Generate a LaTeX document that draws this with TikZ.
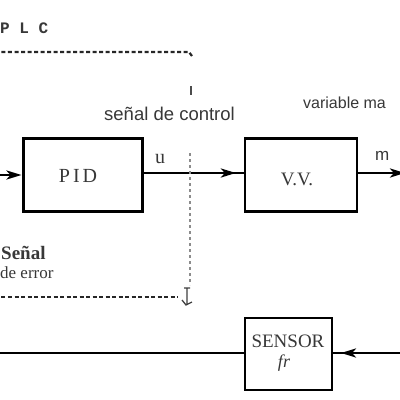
\documentclass[tikz,border=0pt]{standalone}
\usepackage{fontspec}
\setmainfont{Liberation Serif}
\newfontfamily\arialf{Liberation Sans}
\newfontfamily\courf{Liberation Mono}
\usetikzlibrary{arrows.meta,calc}
\begin{document}
\begin{tikzpicture}[x=1pt,y=-1pt,
  blk/.style={draw=black,inner sep=0pt,text=black!75},
  mainline/.style={line width=2.6pt,black},
  tip/.style={-{Stealth[length=15pt,width=9pt,inset=4pt]}},
  dashedline/.style={line width=2.2pt,black!85,dash pattern=on 4pt off 2.5pt},
  dottedline/.style={line width=1.3pt,black!45,dash pattern=on 3pt off 3pt},
  lbl/.style={inner sep=0pt,text=black!78}]
\useasboundingbox (0,0) rectangle (400,400);
\clip (0,0) rectangle (400,400);
\fill[white] (0,0) rectangle (400,400);

% blocks
\node[blk,line width=3pt,minimum width=119pt,minimum height=73pt] (pid) at (82.5,175) {};
\node[lbl,font=\fontsize{20}{20}\selectfont] (pidt) at (78,176) {P\hspace{3pt}I\hspace{3pt}D};
\node[blk,line width=2.2pt,minimum width=112pt,minimum height=73pt] (vv) at (301,175) {};
\node[lbl,font=\fontsize{19}{19}\selectfont] (vvt) at (297,179) {V.V.};
\node[blk,line width=2pt,minimum width=87pt,minimum height=72pt] (sensor) at (288.5,354) {};
\node[lbl,anchor=base,font=\fontsize{19}{19}\selectfont] (sent) at (288,347) {SENSOR};
\node[lbl,anchor=base,font=\fontsize{18}{18}\selectfont\itshape] (frt) at (284,367) {fr};

% coordinates for free ends
\coordinate (inL) at (-5,175);
\coordinate (outR) at (405,173);
\coordinate (fbL) at (-5,353);
\coordinate (fbR) at (405,353);

% connectors
\draw[mainline,tip] (inL) -- (pid.west);
\draw[mainline] (pid.east |- 0,173) -- (vv.west |- 0,173);
\draw[mainline,tip] (pid.east |- 0,173) -- ($(vv.west |- 0,173)+(-8,0)$);
\draw[mainline,tip] (vv.east |- 0,173) -- (outR);
\draw[mainline] (sensor.west |- 0,353) -- (fbL);
\draw[mainline] (fbR) -- (sensor.east |- 0,353);
\draw[mainline,tip] (fbR) -- ($(sensor.east |- 0,353)+(8,0)$);

% PLC dashed frame parts
\draw[dashedline] (-5,52) -- (189,52) -- (192,56);
\draw[line width=1.6pt,black!70] (191,86) -- (191,95);
\draw[dottedline] (190,153) -- (190,285);
\draw[dashedline] (-5,297) -- (178,297);
\draw[line width=1.3pt,black!75] (184,288) -- (190,288) (187,288) -- (187,305) (182,300) -- (186,305) -- (192,302);

% labels
\node[lbl,anchor=base west,font=\courf\bfseries\fontsize{16}{16}\selectfont] (plc) at (0,33) {P L C};
\node[lbl,anchor=base west,font=\arialf\fontsize{18.5}{18.5}\selectfont] (senal) at (104,120) {señal de control};
\node[lbl,anchor=base west,font=\arialf\fontsize{16}{16}\selectfont] (varm) at (303,108) {variable ma};
\node[lbl,anchor=base west,font=\fontsize{20}{20}\selectfont] (u) at (155,163) {u};
\node[lbl,anchor=base west,font=\arialf\fontsize{17}{17}\selectfont] (m) at (375,160) {m};
\node[lbl,anchor=base west,font=\bfseries\fontsize{19}{19}\selectfont] (se) at (1,259) {Señal};
\node[lbl,anchor=base west,font=\fontsize{17}{17}\selectfont] (err) at (0,278) {de error};
\end{tikzpicture}
\end{document}
